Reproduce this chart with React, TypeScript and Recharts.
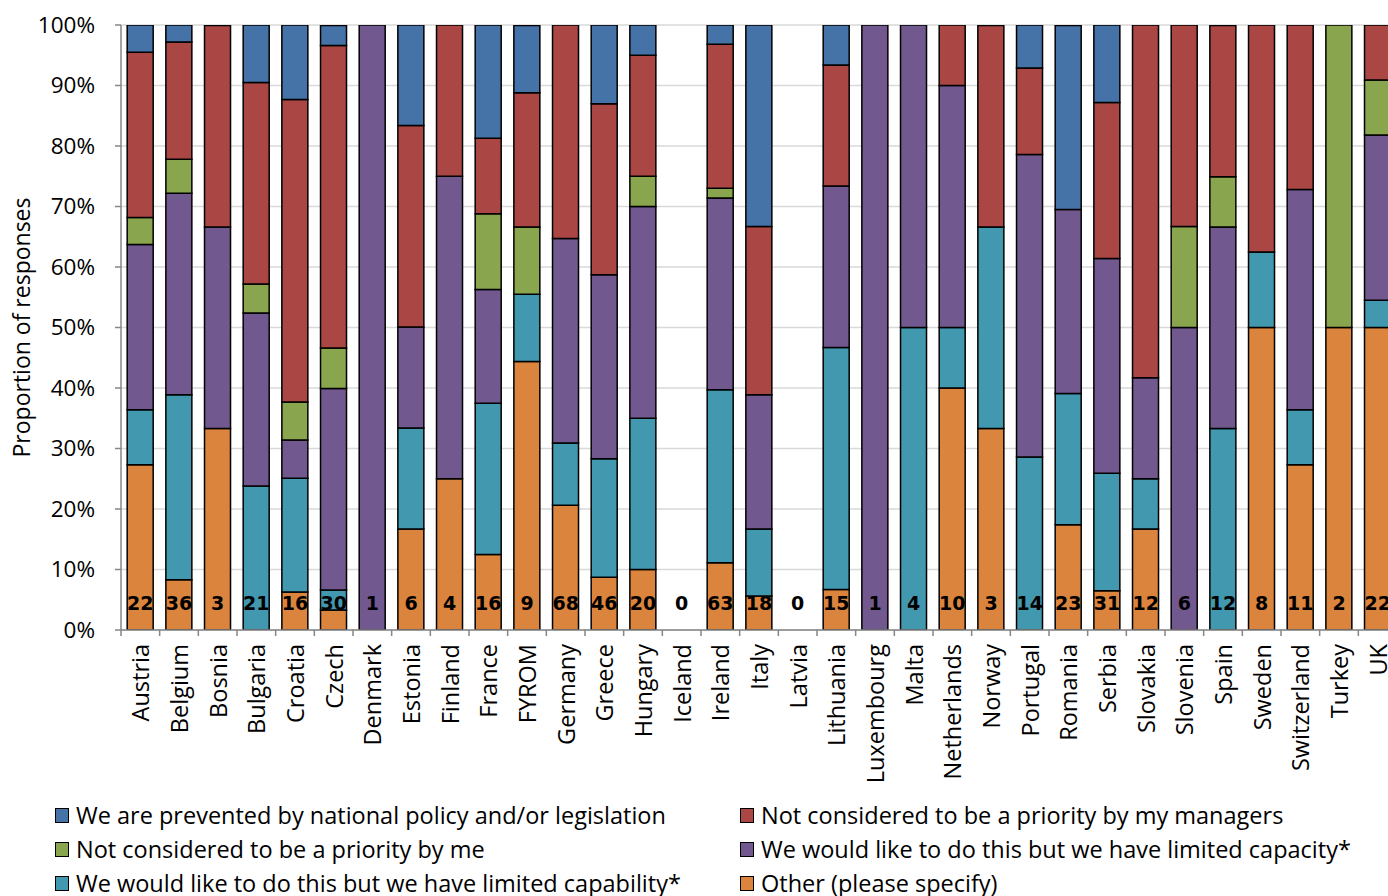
import React from 'react';
import { BarChart, Bar, XAxis, YAxis, CartesianGrid } from 'recharts';

const countries = [
  'Austria', 'Belgium', 'Bosnia', 'Bulgaria', 'Croatia', 'Czech', 'Denmark', 'Estonia', 'Finland',
  'France', 'FYROM', 'Germany', 'Greece', 'Hungary', 'Iceland', 'Ireland', 'Italy', 'Latvia',
  'Lithuania', 'Luxembourg', 'Malta', 'Netherlands', 'Norway', 'Portugal', 'Romania', 'Serbia',
  'Slovakia', 'Slovenia', 'Spain', 'Sweden', 'Switzerland', 'Turkey', 'UK',
];

// number of respondents per country (shown at the foot of each bar)
const responses = [22, 36, 3, 21, 16, 30, 1, 6, 4, 16, 9, 68, 46, 20, 0, 63, 18, 0, 15, 1, 4, 10, 3, 14, 23, 31, 12, 6, 12, 8, 11, 2, 22];

// shares in %, bottom of the stack first
const other = [27.3, 8.3, 33.3, 0, 6.3, 3.3, 0, 16.7, 25, 12.5, 44.4, 20.6, 8.7, 10, 0, 11.1, 5.6, 0, 6.7, 0, 0, 40, 33.3, 0, 17.4, 6.5, 16.7, 0, 0, 50, 27.3, 50, 50];
const capability = [9.1, 30.6, 0, 23.8, 18.8, 3.3, 0, 16.7, 0, 25, 11.1, 10.3, 19.6, 25, 0, 28.6, 11.1, 0, 40, 0, 50, 10, 33.3, 28.6, 21.7, 19.4, 8.3, 0, 33.3, 12.5, 9.1, 0, 4.5];
const capacity = [27.3, 33.3, 33.3, 28.6, 6.3, 33.3, 100, 16.7, 50, 18.8, 0, 33.8, 30.4, 35, 0, 31.7, 22.2, 0, 26.7, 100, 50, 40, 0, 50, 30.4, 35.5, 16.7, 50, 33.3, 0, 36.4, 0, 27.3];
const priorityMe = [4.5, 5.6, 0, 4.8, 6.3, 6.7, 0, 0, 0, 12.5, 11.1, 0, 0, 5, 0, 1.6, 0, 0, 0, 0, 0, 0, 0, 0, 0, 0, 0, 16.7, 8.3, 0, 0, 50, 9.1];
const priorityManagers = [27.3, 19.4, 33.3, 33.3, 50, 50, 0, 33.3, 25, 12.5, 22.2, 35.3, 28.3, 20, 0, 23.8, 27.8, 0, 20, 0, 0, 10, 33.3, 14.3, 0, 25.8, 58.3, 33.3, 25, 37.5, 27.3, 0, 9.1];
const prevented = [4.5, 2.8, 0, 9.5, 12.5, 3.3, 0, 16.7, 0, 18.8, 11.1, 0, 13, 5, 0, 3.2, 33.3, 0, 6.7, 0, 0, 0, 0, 7.1, 30.4, 12.9, 0, 0, 0, 0, 0, 0, 0];

const yTicks = [0, 10, 20, 30, 40, 50, 60, 70, 80, 90, 100];

const series = [
  { key: 'other', name: 'Other (please specify)', color: '#DB843D' },
  { key: 'capability', name: 'We would like to do this but we have limited capability*', color: '#4198AF' },
  { key: 'capacity', name: 'We would like to do this but we have limited capacity*', color: '#71588F' },
  { key: 'priorityMe', name: 'Not considered to be a priority by me', color: '#89A54E' },
  { key: 'priorityManagers', name: 'Not considered to be a priority by my managers', color: '#AA4643' },
  { key: 'prevented', name: 'We are prevented by national policy and/or legislation', color: '#4572A7' },
];

const data = countries.map((country, i) => ({
  country,
  n: responses[i],
  other: other[i],
  capability: capability[i],
  capacity: capacity[i],
  priorityMe: priorityMe[i],
  priorityManagers: priorityManagers[i],
  prevented: prevented[i],
}));

const FONT = '"Open Sans", sans-serif';
const W = 1400;
const H = 896;
const TOP = 25;
const LEFT = 121;
const RIGHT = 3;
const X_AXIS_H = 170;
const BOTTOM = H - 630 - X_AXIS_H;
const BAND = (W - LEFT - RIGHT) / countries.length;

// category tick: boundary tick marks, rotated name, and the response count above the axis
const CountryTick = (props: any) => {
  const { x, y, payload, index } = props;
  const last = index === countries.length - 1;
  return (
    <g>
      <line x1={x - BAND / 2} x2={x - BAND / 2} y1={y} y2={y + 6} stroke="#868686" strokeWidth={1.5} />
      {last && <line x1={x + BAND / 2} x2={x + BAND / 2} y1={y} y2={y + 6} stroke="#868686" strokeWidth={1.5} />}
      <text
        x={x}
        y={y - 27}
        textAnchor="middle"
        dominantBaseline="central"
        fontFamily="DejaVu Sans, sans-serif"
        fontWeight="bold"
        fontSize={19}
        fill="#000"
      >
        {responses[index]}
      </text>
      <text
        transform={`translate(${x},${y + 14}) rotate(-90)`}
        textAnchor="end"
        dominantBaseline="central"
        fontFamily={FONT}
        fontSize={23.5}
        fill="#000"
      >
        {payload.value}
      </text>
    </g>
  );
};

const YLabel = (props: any) => {
  const { viewBox } = props;
  const cy = viewBox.y + viewBox.height / 2;
  return (
    <text
      transform={`translate(21,${cy}) rotate(-90)`}
      textAnchor="middle"
      dominantBaseline="central"
      fontFamily={FONT}
      fontSize={23}
      fill="#000"
    >
      Proportion of responses
    </text>
  );
};

// legend reads row by row: top of the stack first
const legendOrder = [...series].reverse();

export default function App() {
  return (
    <div style={{ position: 'absolute', left: 0, top: 0, width: 1388, height: 896, overflow: 'hidden', background: '#fff' }}>
      <BarChart
        width={W}
        height={H}
        data={data}
        margin={{ top: TOP, right: RIGHT, left: 0, bottom: BOTTOM }}
        barCategoryGap="16%"
      >
        <CartesianGrid vertical={false} stroke="#d9d9d9" strokeWidth={1.5} />
        <YAxis
          width={LEFT}
          domain={[0, 100]}
          ticks={yTicks}
          allowDataOverflow
          tickFormatter={(v: number) => `${v}%`}
          tickSize={6}
          tickMargin={20}
          tickLine={{ stroke: '#868686', strokeWidth: 1.5 }}
          axisLine={{ stroke: '#868686', strokeWidth: 1.5 }}
          tick={{ fontFamily: FONT, fontSize: 22.5, fill: '#000' }}
          label={<YLabel />}
        />
        {series.map((s) => (
          <Bar
            key={s.key}
            dataKey={s.key}
            name={s.name}
            stackId="a"
            fill={s.color}
            stroke="#000"
            strokeWidth={1.5}
            isAnimationActive={false}
          />
        ))}
        <XAxis
          dataKey="country"
          interval={0}
          height={X_AXIS_H}
          tickLine={false}
          tickSize={0}
          tickMargin={0}
          axisLine={{ stroke: '#868686', strokeWidth: 1.5 }}
          tick={<CountryTick />}
        />
      </BarChart>
      <div
        style={{
          position: 'absolute',
          left: 55,
          top: 801,
          display: 'grid',
          gridTemplateColumns: '685px 640px',
          rowGap: 6,
          fontFamily: FONT,
          fontSize: 23.5,
          color: '#000',
        }}
      >
        {legendOrder.map((s) => (
          <div key={s.key} style={{ display: 'flex', alignItems: 'center', height: 28, whiteSpace: 'nowrap' }}>
            <span
              style={{
                display: 'inline-block',
                width: 12,
                height: 13,
                background: s.color,
                border: '1.5px solid #000',
                marginRight: 7,
              }}
            />
            {s.name}
          </div>
        ))}
      </div>
    </div>
  );
}
